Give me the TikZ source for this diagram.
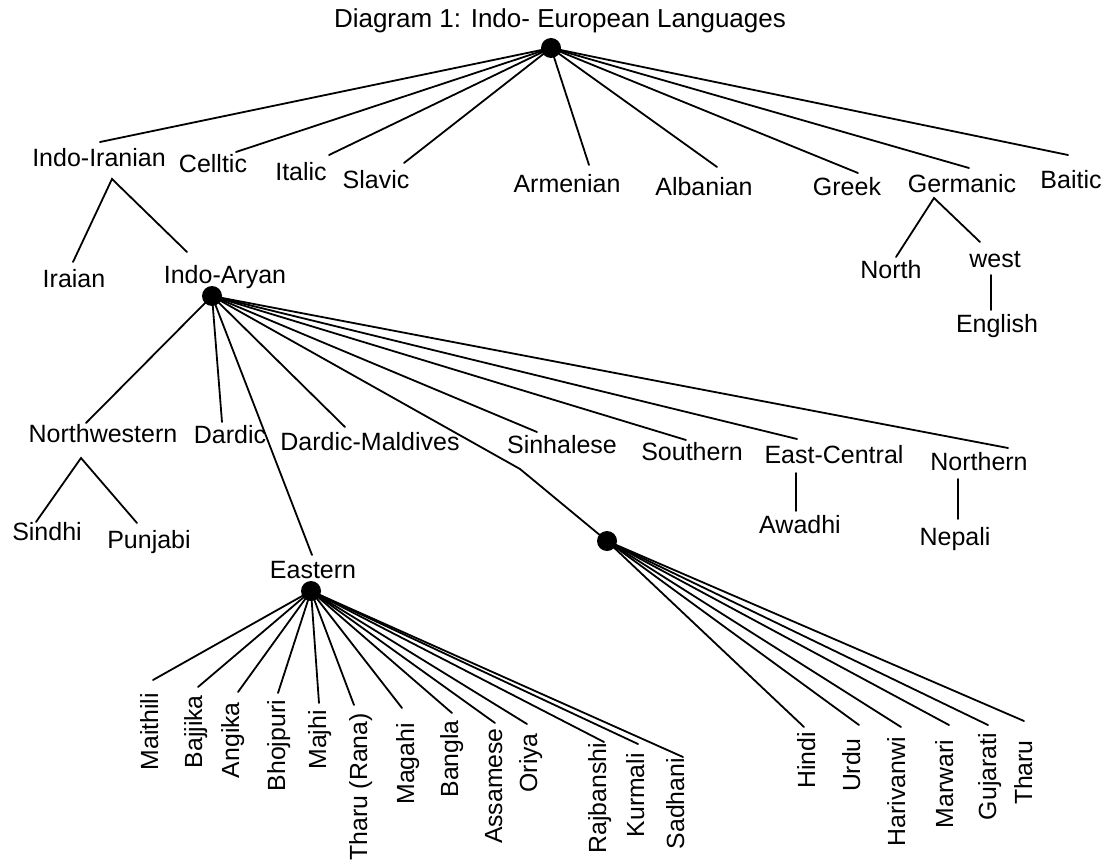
\documentclass[tikz,border=0pt]{standalone}
\usepackage{fontspec}
\setmainfont{Liberation Sans}
\usetikzlibrary{calc}
\begin{document}
\begin{tikzpicture}[x=1pt,y=-1pt,
  lbl/.style={font=\fontsize{25}{28}\selectfont, inner sep=0pt, anchor=base},
  vlbl/.style={font=\fontsize{24.8}{27}\selectfont, inner sep=0pt, rotate=90, anchor=base east},
  ttl/.style={font=\fontsize{26}{29}\selectfont, inner sep=0pt, anchor=base},
  hub/.style={circle, fill=black, inner sep=0pt, minimum size=20pt},
  link/.style={line width=1.8pt, line cap=round}]
\useasboundingbox (0,0) rectangle (1107,861);

% title and root
\node[ttl] (title) at (560,28) {Diagram 1: Indo- European Languages};
\node[hub] (root) at (551,48) {};

% first level
\node[lbl] (indoiranian) at (99,167) {Indo-Iranian};
\node[lbl] (celtic) at (213,173) {Celltic};
\node[lbl] (italic) at (301,180) {Italic};
\node[lbl] (slavic) at (376,188) {Slavic};
\node[lbl] (armenian) at (567,193) {Armenian};
\node[lbl] (albanian) at (704,195) {Albanian};
\node[lbl] (greek) at (847,195) {Greek};
\node[lbl] (germanic) at (962,193) {Germanic};
\node[lbl] (baitic) at (1071,188) {Baitic};

\draw[link] (root.center) -- ($(indoiranian.base)+(1,-25)$);
\draw[link] (root.center) -- ($(celtic.base)+(23,-21)$);
\draw[link] (root.center) -- ($(italic.base)+(28,-25)$);
\draw[link] (root.center) -- ($(slavic.base)+(28,-25)$);
\draw[link] (root.center) -- ($(armenian.base)+(22,-28)$);
\draw[link] (root.center) -- ($(albanian.base)+(13,-28)$);
\draw[link] (root.center) -- ($(greek.base)+(11,-22)$);
\draw[link] (root.center) -- ($(germanic.base)+(7,-25)$);
\draw[link] (root.center) -- ($(baitic.base)+(-3,-33)$);

% Indo-Iranian branch
\node[lbl] (iraian) at (74,287) {Iraian};
\node[lbl] (indoaryan) at (225,283) {Indo-Aryan};
\coordinate (iisplit) at ($(indoiranian.base)+(13,12)$);
\draw[link] ($(iraian.base)+(-1,-25)$) -- (iisplit) -- ($(indoaryan.base)+(-38,-31)$);

% Germanic branch
\node[lbl] (north) at (891,278) {North};
\node[lbl] (west) at (995,267) {west};
\node[lbl] (english) at (997,332) {English};
\coordinate (gesplit) at ($(germanic.base)+(-28,5)$);
\draw[link] ($(north.base)+(5,-21)$) -- (gesplit) -- ($(west.base)+(-15,-25)$);
\draw[link] ($(west.base)+(-4,8)$) -- ($(english.base)+(-6,-22)$);

% Indo-Aryan
\node[hub] (iahub) at (212,296) {};
\node[lbl] (northwestern) at (103,442) {Northwestern};
\node[lbl] (dardic) at (230,443) {Dardic};
\node[lbl] (dardicm) at (370,450) {Dardic-Maldives};
\node[lbl] (sinhalese) at (562,453) {Sinhalese};
\node[lbl] (southern) at (692,460) {Southern};
\node[lbl] (eastcentral) at (834,463) {East-Central};
\node[lbl] (northern) at (979,470) {Northern};
\node[lbl] (eastern) at (313,578) {Eastern};
\node[hub] (centhub) at (607,541) {};
\coordinate (bend) at (520,469);

\draw[link] (iahub.center) -- ($(northwestern.base)+(-17,-19)$);
\draw[link] (iahub.center) -- ($(dardic.base)+(-8,-21)$);
\draw[link] (iahub.center) -- ($(eastern.base)+(-1,-23)$);
\draw[link] (iahub.center) -- ($(dardicm.base)+(-25,-23)$);
\draw[link] (iahub.center) -- ($(sinhalese.base)+(-25,-21)$);
\draw[link] (iahub.center) -- (bend) -- (centhub.center);
\draw[link] (iahub.center) -- ($(southern.base)+(-6,-20)$);
\draw[link] (iahub.center) -- ($(eastcentral.base)+(-37,-24)$);
\draw[link] (iahub.center) -- ($(northern.base)+(29,-22)$);

% Northwestern branch
\node[lbl] (sindhi) at (47,540) {Sindhi};
\node[lbl] (punjabi) at (149,548) {Punjabi};
\coordinate (nwsplit) at ($(northwestern.base)+(-22,16)$);
\draw[link] ($(sindhi.base)+(-11,-18)$) -- (nwsplit) -- ($(punjabi.base)+(-12,-25)$);

% single children
\node[lbl] (awadhi) at (800,533) {Awadhi};
\node[lbl] (nepali) at (955,545) {Nepali};
\draw[link] ($(eastcentral.base)+(-38,10)$) -- ($(awadhi.base)+(-4,-22)$);
\draw[link] ($(northern.base)+(-21,9)$) -- ($(nepali.base)+(3,-26)$);

% Eastern group
\node[hub] (easthub) at (311,591) {};
\node[vlbl] (maithili) at (158,693) {Maithili};
\node[vlbl] (bajjika) at (202,695) {Bajjika};
\node[vlbl] (angika) at (239,702) {Angika};
\node[vlbl] (bhojpuri) at (285,700) {Bhojpuri};
\node[vlbl] (majhi) at (326,710) {Majhi};
\node[vlbl] (tharurana) at (367,713) {Tharu (Rana)};
\node[vlbl] (magahi) at (414,723) {Magahi};
\node[vlbl] (bangla) at (458,720) {Bangla};
\node[vlbl] (assamese) at (502,728) {Assamese};
\node[vlbl] (oriya) at (537,733) {Oriya};
\node[vlbl] (rajbanshi) at (606,743) {Rajbanshi};
\node[vlbl] (kurmali) at (644,753) {Kurmali};
\node[vlbl] (sadhani) at (684,758) {Sadhani};

\draw[link] (easthub.center) -- ($(maithili.base east)+(-5,-13)$);
\draw[link] (easthub.center) -- ($(bajjika.base east)+(-4,-8)$);
\draw[link] (easthub.center) -- ($(angika.base east)+(-1,-10)$);
\draw[link] (easthub.center) -- ($(bhojpuri.base east)+(-7,-7)$);
\draw[link] (easthub.center) -- ($(majhi.base east)+(-7,-7)$);
\draw[link] (easthub.center) -- ($(tharurana.base east)+(-13,-8)$);
\draw[link] (easthub.center) -- ($(magahi.base east)+(-12,-15)$);
\draw[link] (easthub.center) -- ($(bangla.base east)+(-6,-7)$);
\draw[link] (easthub.center) -- ($(assamese.base east)+(-7,-5)$);
\draw[link] (easthub.center) -- ($(oriya.base east)+(-10,-9)$);
\draw[link] (easthub.center) -- ($(rajbanshi.base east)+(-2,-1)$);
\draw[link] (easthub.center) -- ($(kurmali.base east)+(-6,-9)$);
\draw[link] (easthub.center) -- ($(sadhani.base east)+(-1,-1)$);

% Central group
\node[vlbl] (hindi) at (815,732) {Hindi};
\node[vlbl] (urdu) at (860,738) {Urdu};
\node[vlbl] (harivanwi) at (905,737) {Harivanwi};
\node[vlbl] (marwari) at (953,740) {Marwari};
\node[vlbl] (gujarati) at (996,733) {Gujarati};
\node[vlbl] (tharu) at (1032,740) {Tharu};

\draw[link] (centhub.center) -- ($(hindi.base east)+(-11,-5)$);
\draw[link] (centhub.center) -- ($(urdu.base east)+(-1,-13)$);
\draw[link] (centhub.center) -- ($(harivanwi.base east)+(-4,-10)$);
\draw[link] (centhub.center) -- ($(marwari.base east)+(-4,-15)$);
\draw[link] (centhub.center) -- ($(gujarati.base east)+(-8,-8)$);
\draw[link] (centhub.center) -- ($(tharu.base east)+(-8,-19)$);
\end{tikzpicture}
\end{document}
